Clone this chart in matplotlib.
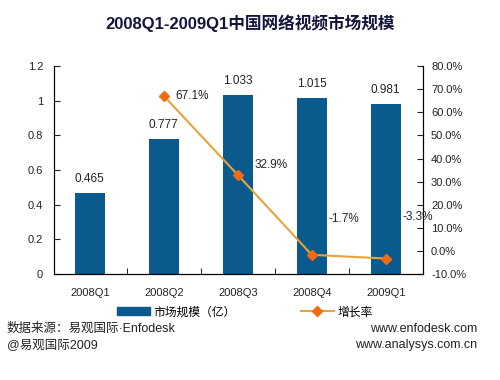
import numpy as np
import matplotlib
matplotlib.use("Agg")
from matplotlib import pyplot as plt
from matplotlib.lines import Line2D
from matplotlib.patches import Patch

plt.rcParams["font.family"] = ["Liberation Sans", "Noto Sans CJK SC", "DejaVu Sans"]

quarters = ["2008Q1", "2008Q2", "2008Q3", "2008Q4", "2009Q1"]
market_size = [0.465, 0.777, 1.033, 1.015, 0.981]
growth = [None, 67.1, 32.9, -1.7, -3.3]
growth_labels = ["", "67.1%", "32.9%", "-1.7%", "-3.3%"]
# label offsets in points (dx, dy) for the growth labels
growth_offsets = [(0, 0), (8, 0), (12, 7), (12, 26), (12, 30)]

bar_color = "#0a5a8e"
line_color = "#e8a33a"
marker_color = "#f26b12"
text_color = "#222222"

fig = plt.figure(figsize=(5.0, 3.8), dpi=100)
ax = fig.add_axes([0.1086, 0.279, 0.7368, 0.547])
ax2 = ax.twinx()

x = np.arange(len(quarters))
ax.bar(x, market_size, width=0.4, color=bar_color, zorder=2)
for xi, v in zip(x, market_size):
    ax.annotate(f"{v:.3f}", (xi, v), xytext=(0, 6), textcoords="offset points",
                ha="center", va="bottom", fontsize=8.5, color=text_color)

gx = [xi for xi, g in zip(x, growth) if g is not None]
gy = [g for g in growth if g is not None]
ax2.plot(gx, gy, color=line_color, lw=1.5, marker="D", ms=5,
         mfc=marker_color, mec=marker_color, zorder=3)
for xi, g, lab, off in zip(x, growth, growth_labels, growth_offsets):
    if g is None:
        continue
    ax2.annotate(lab, (xi, g), xytext=off, textcoords="offset points",
                 ha="left", va="center", fontsize=8.5, color=text_color)

ax.set_xlim(-0.48, 4.5)
ax.set_ylim(0, 1.2)
ax.set_yticks([0, 0.2, 0.4, 0.6, 0.8, 1.0, 1.2])
ax.set_yticklabels(["0", "0.2", "0.4", "0.6", "0.8", "1", "1.2"])
ax2.set_ylim(-10, 80)
ax2.set_yticks(np.arange(-10, 81, 10))
ax2.set_yticklabels([f"{v:.1f}%" for v in np.arange(-10, 81, 10)])

ax.set_xticks(x)
ax.set_xticklabels(quarters)
ax.set_xticks([0.5, 1.5, 2.5, 3.5], minor=True)
ax.tick_params(axis="x", which="major", length=0, pad=10, labelsize=8, colors=text_color)
ax.tick_params(axis="x", which="minor", direction="in", length=4)
ax.tick_params(axis="y", direction="in", length=4, labelsize=8, colors=text_color, pad=8)
ax2.tick_params(axis="y", direction="in", length=4, labelsize=8, colors=text_color, pad=6)

for a in (ax, ax2):
    a.spines["top"].set_visible(False)
ax.set_zorder(1)
ax2.set_zorder(2)

fig.text(0.5, 0.94, "2008Q1-2009Q1中国网络视频市场规模", ha="center", va="center",
         fontsize=12, fontweight="bold", color="#14143c")

handles = [Patch(color=bar_color, label="市场规模（亿）"),
           Line2D([0], [0], color=line_color, lw=1.5, marker="D", ms=5,
                  mfc=marker_color, mec=marker_color, label="增长率")]
fig.legend(handles=handles, loc="center", bbox_to_anchor=(0.49, 0.178), ncol=2,
           frameon=False, fontsize=8.5, columnspacing=5.5, handlelength=2.8,
           handletextpad=0.3)

fig.text(0.014, 0.135, "数据来源：易观国际·Enfodesk", ha="left", va="center",
         fontsize=9, color=text_color)
fig.text(0.014, 0.092, "@易观国际2009", ha="left", va="center",
         fontsize=9, color=text_color)
fig.text(0.955, 0.135, "www.enfodesk.com", ha="right", va="center",
         fontsize=9, color=text_color)
fig.text(0.955, 0.092, "www.analysys.com.cn", ha="right", va="center",
         fontsize=9, color=text_color)

fig.savefig("out.png", dpi=100)
